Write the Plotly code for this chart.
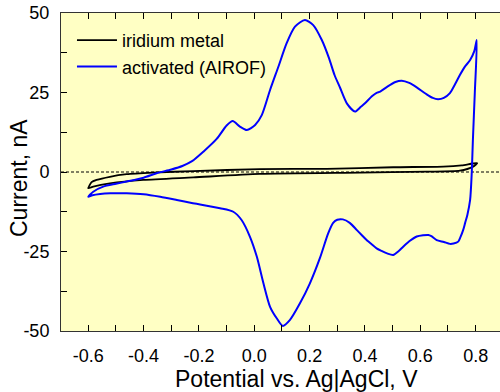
import plotly.graph_objects as go

# ---- data ----
airof_v = [-0.600, -0.582, -0.546, -0.500, -0.461, -0.400, -0.353, -0.300, -0.260, -0.225,
           -0.184, -0.136, -0.100, -0.078, -0.052, -0.027, 0.003, 0.027, 0.057, 0.087,
           0.117, 0.147, 0.183, 0.213, 0.244, 0.270, 0.290, 0.310, 0.335, 0.364,
           0.385, 0.400, 0.425, 0.442, 0.455, 0.480, 0.510, 0.533, 0.560, 0.587,
           0.620, 0.645, 0.664, 0.685, 0.707, 0.725, 0.743, 0.760, 0.780, 0.795, 0.804,
           0.797, 0.790, 0.786, 0.780, 0.770, 0.762, 0.755, 0.745, 0.737, 0.720,
           0.707, 0.685, 0.659, 0.640, 0.629, 0.610, 0.587, 0.560, 0.538, 0.520,
           0.502, 0.480, 0.460, 0.442, 0.425, 0.406, 0.388, 0.370, 0.345, 0.320,
           0.300, 0.285, 0.267, 0.237, 0.201, 0.165, 0.129, 0.103, 0.081, 0.057,
           0.033, 0.009, -0.016, -0.046, -0.076, -0.124, -0.196, -0.222, -0.280, -0.340,
           -0.400, -0.461, -0.520, -0.557, -0.585, -0.600]
airof_i = [-7.8, -6.2, -4.6, -3.7, -3.0, -1.8, -0.4, 0.8, 1.9, 3.4,
           6.4, 10.4, 14.6, 16.0, 14.3, 13.2, 14.8, 17.9, 25.8, 33.1,
           40.5, 45.7, 47.8, 46.2, 41.5, 35.8, 30.5, 26.5, 21.5, 19.0,
           20.5, 21.6, 23.8, 24.9, 25.3, 26.8, 28.3, 28.7, 28.0, 26.6,
           24.6, 23.3, 22.9, 23.3, 24.8, 27.5, 30.5, 33.0, 35.2, 38.0, 41.5,
           25.0, 10.0, 0.0, -8.8, -13.5, -16.0, -18.2, -20.5, -21.9, -22.5,
           -22.6, -22.0, -21.4, -20.2, -19.8, -19.9, -20.3, -21.8, -23.5, -25.0,
           -26.1, -25.6, -24.8, -24.0, -22.8, -21.4, -19.8, -18.2, -16.0, -14.9,
           -15.0, -16.0, -19.3, -27.1, -35.0, -41.3, -46.5, -48.4, -46.0, -42.4,
           -35.0, -26.6, -20.3, -15.1, -12.5, -11.4, -10.2, -9.8, -8.8, -7.8,
           -7.0, -6.7, -6.7, -6.9, -7.3, -7.8]

iridium_v = [-0.600, -0.588, -0.570, -0.522, -0.461, -0.365, -0.220, 0.020, 0.262, 0.502,
             0.683, 0.750, 0.806,
             0.791, 0.743, 0.623, 0.382, 0.020, -0.220, -0.401, -0.522, -0.582, -0.600]
iridium_i = [-5.1, -3.2, -2.5, -1.5, -0.7, -0.2, 0.3, 0.9, 1.0, 1.5,
             1.7, 2.1, 2.8,
             1.7, 0.4, 0.1, -0.2, -0.6, -1.7, -2.5, -3.6, -4.6, -5.1]

x_major = [-0.6, -0.4, -0.2, 0.0, 0.2, 0.4, 0.6, 0.8]
x_labels = ["-0.6", "-0.4", "-0.2", "0.0", "0.2", "0.4", "0.6", "0.8"]
x_minor = [-0.5, -0.3, -0.1, 0.1, 0.3, 0.5, 0.7]
y_major = [-50, -25, 0, 25, 50]
y_labels = ["-50", "-25", "0", "25", "50"]
y_minor = [-37.5, -12.5, 12.5, 37.5]

FONT = "Liberation Sans, Arial, sans-serif"

fig = go.Figure()
fig.add_trace(go.Scatter(x=iridium_v, y=iridium_i, mode="lines", name="iridium metal",
                         line=dict(color="black", width=1.8, shape="spline", smoothing=0.6)))
fig.add_trace(go.Scatter(x=airof_v, y=airof_i, mode="lines", name="activated (AIROF)",
                         line=dict(color="#0000ff", width=2, shape="spline", smoothing=0.7)))

fig.add_shape(type="line", xref="paper", yref="y", x0=0, x1=1, y0=0, y1=0,
              line=dict(color="black", width=1, dash="3px,2px"), layer="below")

axis_common = dict(ticks="inside", ticklen=6, tickcolor="black", tickwidth=1,
                   showgrid=False, zeroline=False, tickfont=dict(family=FONT, size=18, color="black"))

fig.update_layout(
    width=500, height=392,
    margin=dict(l=61, r=0, t=13, b=61),
    paper_bgcolor="white", plot_bgcolor="#ffffc4",
    font=dict(family=FONT, color="black"),
    showlegend=True,
    legend=dict(x=0.025, y=0.972, xanchor="left", yanchor="top",
                bgcolor="rgba(0,0,0,0)", font=dict(family=FONT, size=18),
                itemwidth=40, tracegroupgap=0),
    xaxis=dict(range=[-0.6986, 0.888], tickmode="array", tickvals=x_major, ticktext=x_labels,
               minor=dict(tickmode="array", tickvals=x_minor, ticks="inside", ticklen=6,
                          tickcolor="black"),
               showline=True, linecolor="#333333", linewidth=1, mirror="ticks",
               ticklabelstandoff=8,
               **axis_common),
    yaxis=dict(range=[-50, 50], tickmode="array", tickvals=y_major, ticktext=y_labels,
               minor=dict(tickmode="array", tickvals=y_minor, ticks="inside", ticklen=6,
                          tickcolor="black"),
               showline=True, linecolor="#333333", linewidth=1, mirror=False,
               ticklabelstandoff=7,
               **axis_common),
    yaxis2=dict(range=[-50, 50], overlaying="y", side="right", tickmode="array",
                tickvals=y_major, showticklabels=False, showline=False,
                minor=dict(tickmode="array", tickvals=y_minor, ticks="inside", ticklen=6,
                           tickcolor="black"),
                ticks="inside", ticklen=6, tickcolor="black", showgrid=False, zeroline=False),
    annotations=[
        dict(text="Current, nA", xref="paper", yref="paper", x=0, y=0.5,
             xanchor="center", yanchor="middle", xshift=-42, yshift=-6,
             textangle=-90, showarrow=False,
             font=dict(family=FONT, size=23, color="black")),
        dict(text="Potential vs. Ag|AgCl, V", xref="paper", yref="paper", x=0.5, y=0,
             xanchor="center", yanchor="middle", xshift=16, yshift=-48,
             showarrow=False, font=dict(family=FONT, size=23, color="black")),
    ],
)

fig.write_html("out.html")
